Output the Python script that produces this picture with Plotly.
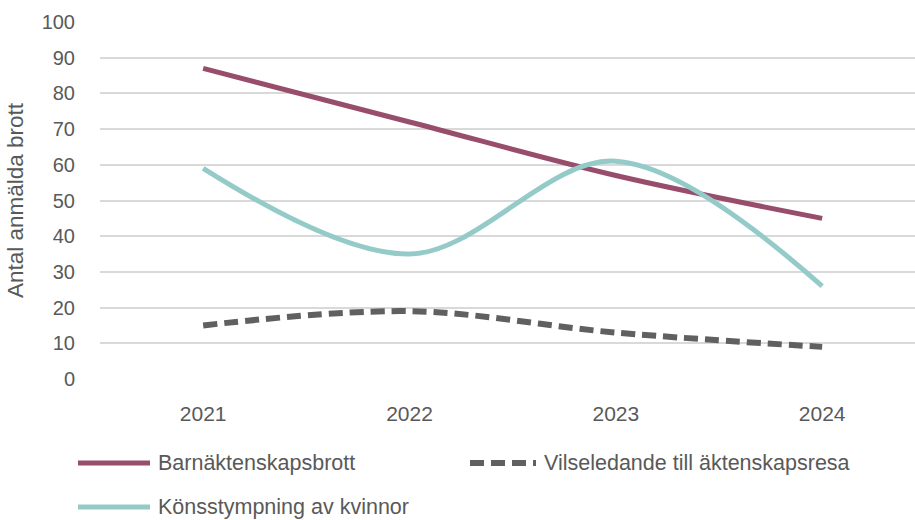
import plotly.graph_objects as go

# Reported crimes per year
years = ["2021", "2022", "2023", "2024"]
series_names = [
    "Barnäktenskapsbrott",
    "Vilseledande till äktenskapsresa",
    "Könsstympning av kvinnor",
]
barnaktenskap = [87, 72, 57, 45]
vilseledande = [15, 19, 13, 9]
konsstympning = [59, 35, 61, 26]
y_ticks = [0, 10, 20, 30, 40, 50, 60, 70, 80, 90, 100]

W, H = 915, 520
L, R, T, B = 100, 0, 22, 141
plot_w, plot_h = W - L - R, H - T - B

colors = ["#974D6B", "#606060", "#94CBC9"]
dashes = ["solid", "14px,7px", "solid"]
widths = [5, 6, 5]
values = [barnaktenskap, vilseledande, konsstympning]

FONT = "Liberation Sans, Arial, sans-serif"
TXT = "#595959"

fig = go.Figure()
x_idx = list(range(len(years)))
for name, vals, c, d, w in zip(series_names, values, colors, dashes, widths):
    fig.add_trace(go.Scatter(
        x=x_idx, y=vals, name=name, mode="lines",
        line=dict(color=c, width=w, dash=d, shape="spline", smoothing=1.0),
        showlegend=False, hoverinfo="x+y+name",
    ))


def px_x(px):
    return (px - L) / plot_w


def px_y(py):
    return (H - B - py) / plot_h


# Legend drawn as line samples plus labels, laid out in two columns
legend_slots = [(78, 150, 463), (470, 536, 463), (78, 150, 507)]
shapes, annotations = [], []
for (x0, x1, yy), name, c, d, w in zip(legend_slots, series_names, colors, dashes, widths):
    shapes.append(dict(
        type="line", xref="paper", yref="paper",
        x0=px_x(x0), x1=px_x(x1), y0=px_y(yy), y1=px_y(yy),
        line=dict(color=c, width=w, dash=d),
    ))
    annotations.append(dict(
        xref="paper", yref="paper", x=px_x(x1 + 6), y=px_y(yy),
        xanchor="left", yanchor="middle", showarrow=False, text=name,
        font=dict(family=FONT, size=21.5, color=TXT),
    ))

fig.update_layout(
    width=W, height=H,
    margin=dict(l=L, r=R, t=T, b=B),
    paper_bgcolor="white", plot_bgcolor="white",
    shapes=shapes, annotations=annotations,
    showlegend=False,
    xaxis=dict(
        range=[-0.5, 3.45], tickmode="array", tickvals=x_idx, ticktext=years,
        showgrid=False, zeroline=False, showline=False,
        ticks="outside", ticklen=16, tickcolor="rgba(0,0,0,0)",
        tickfont=dict(family=FONT, size=21, color=TXT),
    ),
    yaxis=dict(
        range=[0, 100], tickmode="array", tickvals=y_ticks,
        showgrid=True, gridcolor="#D9D9D9", gridwidth=1.5,
        zeroline=False, showline=False,
        ticks="outside", ticklen=20, tickcolor="rgba(0,0,0,0)",
        tickfont=dict(family=FONT, size=20, color=TXT),
        title=dict(text="Antal anmälda brott", standoff=11,
                   font=dict(family=FONT, size=22.5, color=TXT)),
    ),
)

fig.write_html("out.html")
